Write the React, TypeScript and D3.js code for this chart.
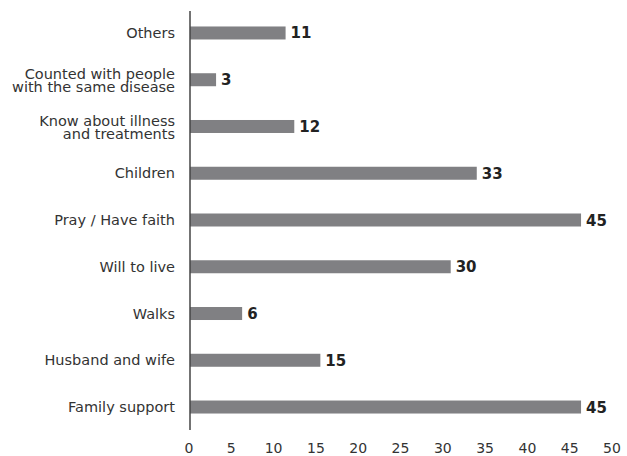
import React from "react";
import * as d3 from "d3";

const categories: string[][] = [
  ["Others"],
  ["Counted with people", "with the same disease"],
  ["Know about illness", "and treatments"],
  ["Children"],
  ["Pray / Have faith"],
  ["Will to live"],
  ["Walks"],
  ["Husband and wife"],
  ["Family support"],
];
const values: number[] = [11, 3, 12, 33, 45, 30, 6, 15, 45];
const tickValues: number[] = [0, 5, 10, 15, 20, 25, 30, 35, 40, 45, 50];

const W = 627;
const H = 456;
const FONT = "'DejaVu Sans', sans-serif";

export default function App() {
  const keys = categories.map((c) => c.join(" "));
  const y = d3.scalePoint<string>().domain(keys).range([9.6, 430.4]).padding(0.5);
  const x = d3.scaleLinear().domain([0, 50]).range([190, 624.5]);
  const xTick = d3.scaleLinear().domain([0, 50]).range([189, 612]);
  const barH = 13;

  return (
    <svg
      width={W}
      height={H}
      style={{ position: "absolute", left: 0, top: 0, background: "#fff" }}
    >
      {values.map((v, i) => {
        const cy = y(keys[i]) as number;
        return (
          <g key={i}>
            <rect
              x={x(0)}
              y={cy - barH / 2}
              width={x(v) - x(0)}
              height={barH}
              fill="#808083"
            />
            <text
              x={x(v) + 5}
              y={cy + 5.5}
              fontFamily={FONT}
              fontWeight="bold"
              fontSize={15}
              fill="#222"
            >
              {v}
            </text>
          </g>
        );
      })}
      {categories.map((lines, i) => {
        const cy = y(keys[i]) as number;
        const base = lines.length === 1 ? [cy + 5] : [cy - 0.5, cy + 12.5];
        return (
          <text
            key={i}
            x={175}
            textAnchor="end"
            fontFamily={FONT}
            fontSize={14.5}
            fill="#333"
          >
            {lines.map((l, j) => (
              <tspan key={j} x={175} y={base[j]}>
                {l}
              </tspan>
            ))}
          </text>
        );
      })}
      <line x1={190} x2={190} y1={11} y2={430} stroke="#444" strokeWidth={1.5} />
      {tickValues.map((t) => (
        <text
          key={t}
          x={xTick(t)}
          y={453}
          textAnchor="middle"
          fontFamily={FONT}
          fontSize={14}
          fill="#333"
        >
          {t}
        </text>
      ))}
    </svg>
  );
}
